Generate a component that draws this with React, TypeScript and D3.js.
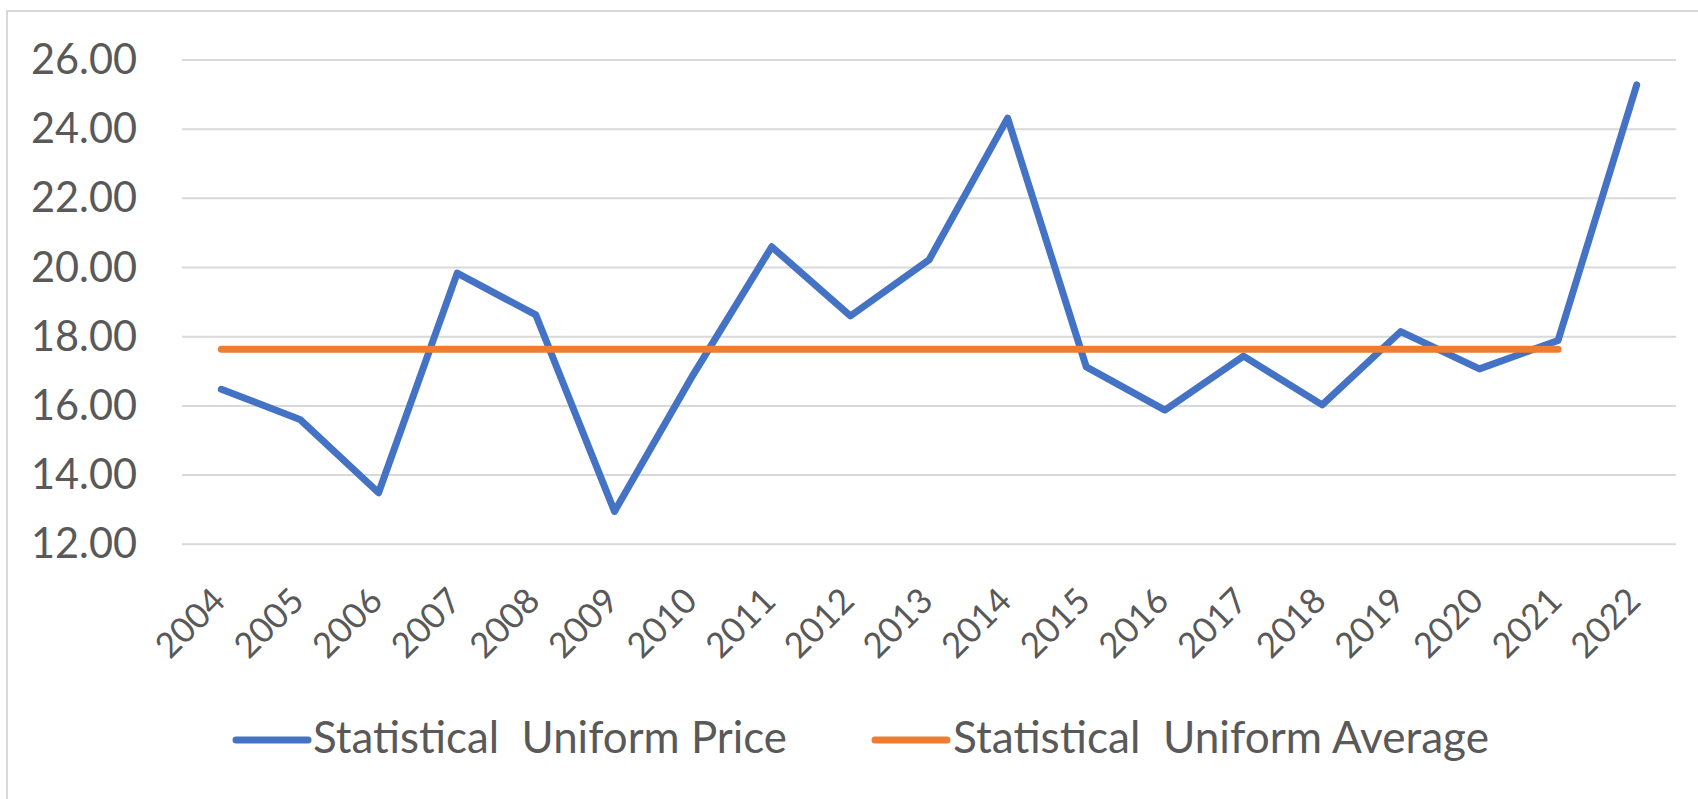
import React from "react";
import * as d3 from "d3";

const years = ["2004","2005","2006","2007","2008","2009","2010","2011","2012","2013","2014","2015","2016","2017","2018","2019","2020","2021","2022"];
const priceValues = [16.48,15.61,13.49,19.84,18.63,12.95,16.9,20.6,18.6,20.22,24.32,17.13,15.88,17.44,16.03,18.15,17.07,17.89,25.28];
const averageYears = years.slice(0, 18);
const averageValue = 17.64;
const yTicks = [12,14,16,18,20,22,24,26];
const seriesNames = ["Statistical  Uniform Price", "Statistical  Uniform Average"];

const W = 1698, H = 799;
const FONT = "Lato, 'Open Sans', sans-serif";
const TEXT = "#595959";

export default function App() {
  const x = d3.scaleBand<string>().domain(years).range([182, 1676]);
  const cx = (d: string) => (x(d) as number) + x.bandwidth() / 2;
  const y = d3.scaleLinear().domain([12, 26]).range([544.3, 60]);

  const line = d3.line<number>().x((_, i) => cx(years[i])).y(d => y(d));
  const avgLine = d3.line<string>().x(d => cx(d)).y(() => y(averageValue));

  return (
    <svg width={W} height={H} style={{ position: "absolute", left: 0, top: 0, background: "#fff" }}>
      <rect x={7} y={11} width={W + 20} height={H + 20} fill="#fff" stroke="#d9d9d9" strokeWidth={2} />
      {yTicks.map(t => (
        <g key={t}>
          <line x1={182} x2={1676} y1={y(t)} y2={y(t)} stroke="#d9d9d9" strokeWidth={2} />
          <text x={137} y={y(t) + 14} textAnchor="end" fontFamily={FONT} fontSize={43} fill={TEXT}
            textLength={106} lengthAdjust="spacingAndGlyphs">{t.toFixed(2)}</text>
        </g>
      ))}
      {years.map(yr => (
        <text key={yr} transform={`translate(${cx(yr) + 6},603) rotate(-45)`} textAnchor="end"
          fontFamily={FONT} fontSize={35} fill={TEXT} textLength={81} lengthAdjust="spacingAndGlyphs">{yr}</text>
      ))}
      <path d={line(priceValues) || ""} fill="none" stroke="#4472C4" strokeWidth={7} strokeLinecap="round" strokeLinejoin="round" />
      <path d={avgLine(averageYears) || ""} fill="none" stroke="#ED7D31" strokeWidth={7} strokeLinecap="round" strokeLinejoin="round" />
      <line x1={236} x2={308} y1={740} y2={740} stroke="#4472C4" strokeWidth={7} strokeLinecap="round" />
      <text x={313} y={753} fontFamily={FONT} fontSize={44} fill={TEXT} style={{ whiteSpace: "pre" }}
        textLength={474} lengthAdjust="spacingAndGlyphs">{seriesNames[0]}</text>
      <line x1={875} x2={947} y1={740} y2={740} stroke="#ED7D31" strokeWidth={7} strokeLinecap="round" />
      <text x={953} y={753} fontFamily={FONT} fontSize={44} fill={TEXT} style={{ whiteSpace: "pre" }}
        textLength={536} lengthAdjust="spacingAndGlyphs">{seriesNames[1]}</text>
    </svg>
  );
}
